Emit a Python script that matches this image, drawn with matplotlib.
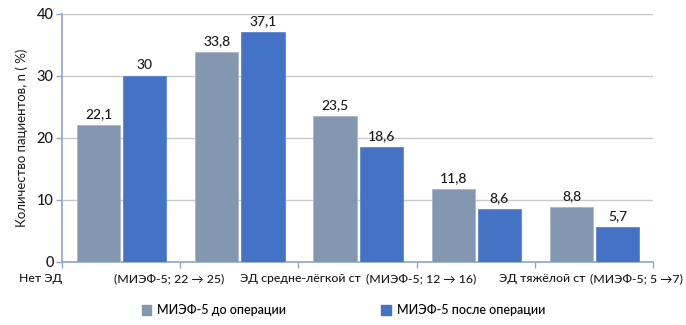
import matplotlib

matplotlib.use("Agg")
import matplotlib.pyplot as plt
import numpy as np
from matplotlib.patches import Patch

plt.rcParams["font.family"] = ["Lato", "DejaVu Sans"]
plt.rcParams["font.weight"] = "medium"

# data
before = [22.1, 33.8, 23.5, 11.8, 8.8]
after = [30, 37.1, 18.6, 8.6, 5.7]
boundary_labels = [
    "Нет ЭД",
    "(МИЭФ-5; 22 → 25)",
    "ЭД средне-лёгкой ст",
    "(МИЭФ-5; 12 → 16)",
    "ЭД тяжёлой ст",
    "(МИЭФ-5; 5 →7)",
]
series_names = ["МИЭФ-5 до операции", "МИЭФ-5 после операции"]
y_ticks = [0, 10, 20, 30, 40]

GRAY = "#8497b0"
BLUE = "#4472c4"
AXIS = "#8ea6c4"
GRID = "#c8c8c8"
INK = "#1a1a1a"

fig = plt.figure(figsize=(6.86, 3.25), dpi=100)
ax = fig.add_axes([0.0904, 0.194, 0.8615, 0.763])

x = np.arange(len(before))
w = 0.365
b1 = ax.bar(x - 0.19, before, w, color=GRAY, edgecolor="#a9b7ca", linewidth=0.6, zorder=3)
b2 = ax.bar(x + 0.2, after, w, color=BLUE, edgecolor="#5b86cf", linewidth=0.6, zorder=3)

for bars, vals in ((b1, before), (b2, after)):
    for r, v in zip(bars, vals):
        txt = f"{v:g}".replace(".", ",")
        ax.text(r.get_x() + r.get_width() / 2, v + 0.8, txt,
                ha="center", va="bottom", fontsize=10, color=INK)

ax.set_xlim(-0.5, len(before) - 0.5)
ax.set_ylim(0, 40)
ax.set_yticks(y_ticks)
ax.set_yticklabels([str(t) for t in y_ticks], fontsize=10.5, color=INK)
ax.yaxis.grid(True, color=GRID, linewidth=1, zorder=0)
ax.set_axisbelow(True)

bounds = np.arange(len(before) + 1) - 0.5
ax.set_xticks(bounds)
ax.set_xticklabels([])
ax.tick_params(axis="x", length=4, color=AXIS, width=1)
ax.tick_params(axis="y", length=4, color=AXIS, width=1, pad=2)

for s in ("top", "right"):
    ax.spines[s].set_visible(False)
for s in ("left", "bottom"):
    ax.spines[s].set_color(AXIS)
    ax.spines[s].set_linewidth(1.2)

# labels sit on the category boundaries, as in the original
label_x = [-0.5, 0.407, 1.517, 2.54, 3.56, 4.755]
label_ha = ["right", "center", "center", "center", "center", "right"]
tr = ax.get_xaxis_transform()
for lx, ha, lab in zip(label_x, label_ha, boundary_labels):
    ax.text(lx, -0.045, lab, transform=tr, ha=ha, va="top",
            fontsize=8.8, color=INK)

ax.set_ylabel("Количество пациентов, n ( %)", fontsize=9.5, color=INK, labelpad=6)

handles = [Patch(color=GRAY), Patch(color=BLUE)]
fig.legend(handles, series_names, loc="center", bbox_to_anchor=(0.501, 0.045),
           ncol=2, frameon=False, fontsize=9, handlelength=0.75, handleheight=0.75,
           columnspacing=7.6, handletextpad=0.5)

fig.savefig("out.png", dpi=100)
